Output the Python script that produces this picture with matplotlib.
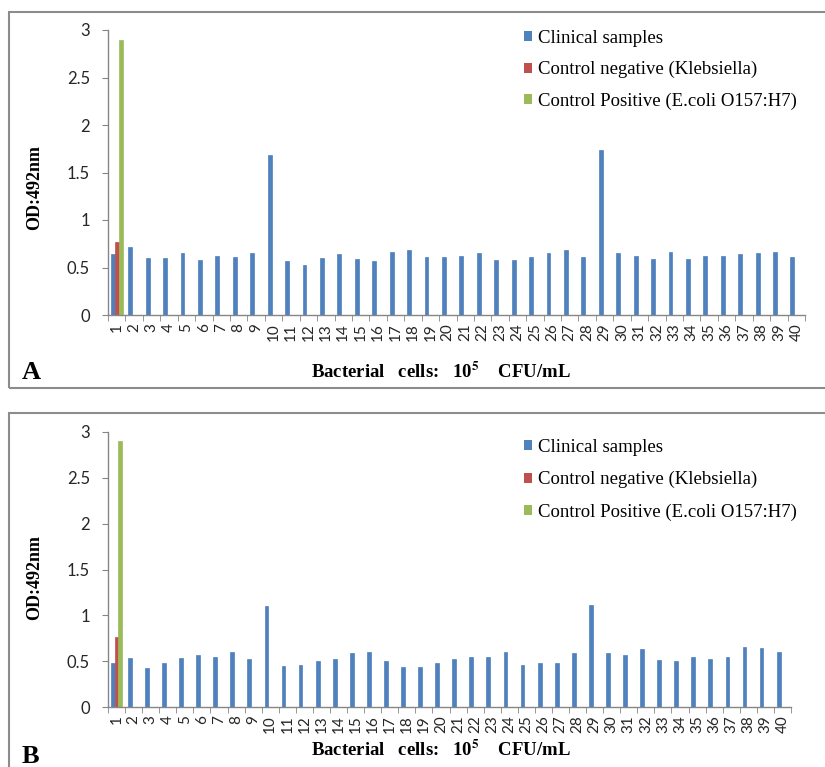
import matplotlib
matplotlib.use('Agg')
import matplotlib.pyplot as plt
from matplotlib.patches import Rectangle, Patch
import numpy as np

plt.rcParams['mathtext.fontset'] = 'stix'

# sample numbers on the x axis
categories = [str(i) for i in range(1, 41)]

# panel A - OD values at 492 nm
clinical_a = [0.64, 0.72, 0.60, 0.60, 0.65, 0.58, 0.625, 0.615, 0.65, 1.68,
              0.57, 0.53, 0.60, 0.64, 0.59, 0.57, 0.66, 0.68, 0.615, 0.615,
              0.625, 0.65, 0.58, 0.58, 0.615, 0.65, 0.68, 0.615, 1.74, 0.65,
              0.625, 0.59, 0.66, 0.59, 0.625, 0.625, 0.64, 0.65, 0.66, 0.615]
neg_a = [0.77]
pos_a = [2.89]

# panel B
clinical_b = [0.48, 0.53, 0.43, 0.48, 0.53, 0.57, 0.55, 0.60, 0.52, 1.10,
              0.45, 0.46, 0.50, 0.52, 0.59, 0.60, 0.50, 0.44, 0.44, 0.48,
              0.52, 0.55, 0.55, 0.60, 0.46, 0.48, 0.48, 0.59, 1.11, 0.59,
              0.57, 0.63, 0.51, 0.50, 0.55, 0.52, 0.55, 0.66, 0.64, 0.60]
neg_b = [0.76]
pos_b = [2.90]

series_names = ["Clinical samples", "Control negative (Klebsiella)",
                "Control Positive (E.coli O157:H7)"]
colors = ["#4F81BD", "#C0504D", "#9BBB59"]

W, H = 825, 767
fig = plt.figure(figsize=(W / 100, H / 100), dpi=100)


def fx(px):
    return px / W


def fy(py):
    return 1 - py / H


def draw_panel(rect, clinical, neg, pos, letter, border, xlabel_y, ylabel_xy, legend_y, spacing):
    left, right, top, bottom = rect
    ax = fig.add_axes([fx(left), fy(bottom), fx(right - left), (bottom - top) / H])
    x = np.arange(len(categories))
    w = 1 / 4.5
    ax.bar(x - w, clinical, width=w, color=colors[0], edgecolor=colors[0], linewidth=0.5)
    ax.bar(x[:len(neg)], neg, width=w, color=colors[1], edgecolor=colors[1], linewidth=0.5)
    ax.bar(x[:len(pos)] + w, pos, width=w, color=colors[2], edgecolor=colors[2], linewidth=0.5)

    ax.set_xlim(-0.5, len(categories) - 0.5)
    ax.set_ylim(0, 3)
    ax.set_yticks([0, 0.5, 1, 1.5, 2, 2.5, 3])
    ax.set_yticklabels(["0", "0.5", "1", "1.5", "2", "2.5", "3"])
    ax.set_xticks(x)
    ax.set_xticklabels(categories, rotation=90, fontsize=11, family="Lato", color="#262626")
    ax.set_xticks(np.arange(-0.5, len(categories)), minor=True)
    ax.tick_params(axis='x', which='major', length=0, pad=6)
    ax.tick_params(axis='x', which='minor', length=4, color="#868686", direction='out')
    ax.tick_params(axis='y', length=4, color="#868686", labelsize=12, labelcolor="#262626", pad=9)
    for lab in ax.get_yticklabels():
        lab.set_family("Lato")
    for s in ["top", "right"]:
        ax.spines[s].set_visible(False)
    for s in ["left", "bottom"]:
        ax.spines[s].set_color("#868686")
        ax.spines[s].set_linewidth(1.0)

    handles = [Patch(facecolor=c, edgecolor='none') for c in colors]
    ax.legend(handles, series_names, loc='upper left', frameon=False,
              bbox_to_anchor=(fx(524), fy(legend_y)), bbox_transform=fig.transFigure,
              prop={'family': 'Liberation Serif', 'size': 13.5},
              handlelength=0.45, handleheight=0.45, handletextpad=0.3,
              labelspacing=spacing, borderaxespad=0, borderpad=0)

    fig.text(fx(ylabel_xy[0]), fy(ylabel_xy[1]), "OD:492nm", rotation=90,
             ha='center', va='center', family='Liberation Serif', weight='bold', size=13)
    fig.text(fx(441), fy(xlabel_y), r"Bacterial   cells:   10$^{\mathbf{5}}$    CFU/mL",
             ha='center', va='center', family='Liberation Serif', weight='bold', size=13.5)
    fig.text(fx(22), fy(border[3] - 9), letter, ha='left', va='baseline',
             family='Liberation Serif', weight='bold', size=19)

    bx0, by0, bx1, by1 = border
    fig.patches.append(Rectangle((fx(bx0), fy(by1)), fx(bx1 - bx0), (by1 - by0) / H,
                                 transform=fig.transFigure, fill=False,
                                 edgecolor="#8c8c8c", linewidth=1.5))
    return ax


draw_panel((108, 805, 30, 315), clinical_a, neg_a, pos_a, "A",
           (9, 12, 830, 388), 372, (35, 187), 30, 0.75)
draw_panel((108, 791, 432, 707), clinical_b, neg_b, pos_b, "B",
           (9, 413, 830, 772), 750, (35, 578), 439, 0.8)

fig.savefig("out.png", dpi=100)
